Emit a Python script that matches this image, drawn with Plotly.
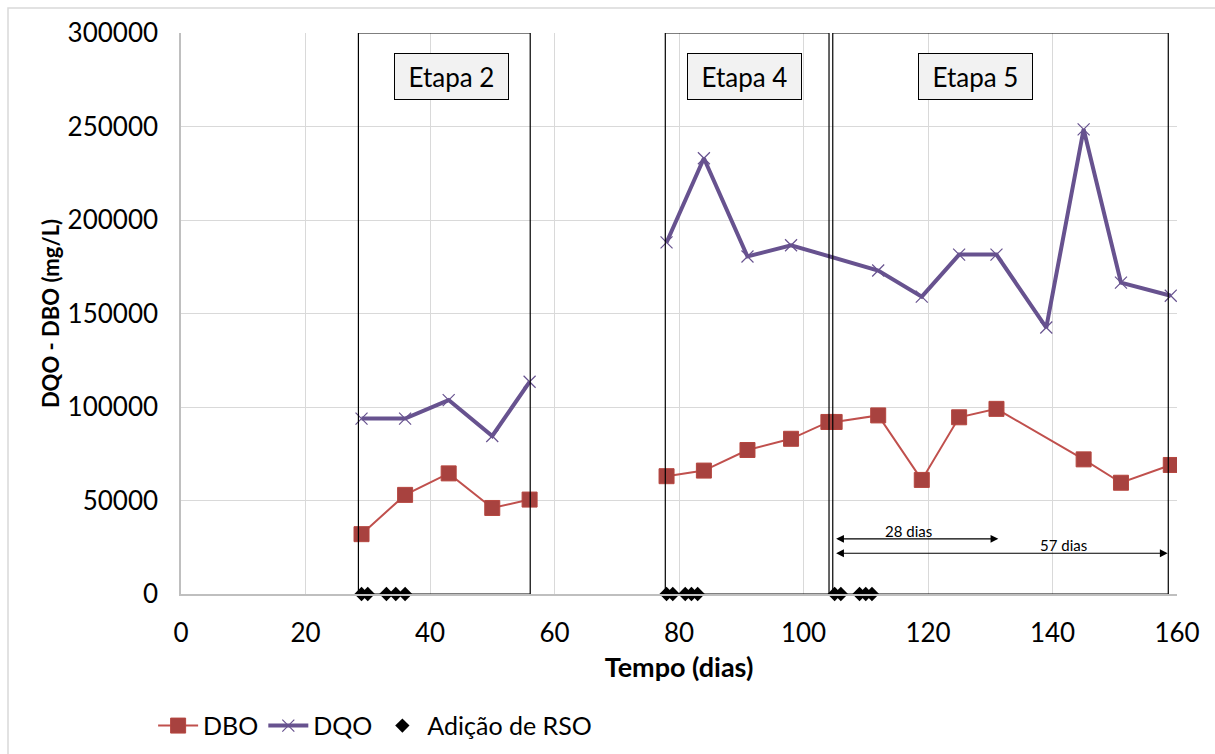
import plotly.graph_objects as go

# ---- data ----  (None = gap between stages)
dbo_days = [29, 36, 43, 50, 56, None, 78, 84, 91, 98, 104, 105, 112, 119, 125, 131, 145, 151, 159]
dbo_vals = [32000, 53000, 64500, 46000, 50500, None, 63000, 66000, 77000, 83000, 92000, 92000, 95500, 61000, 94500, 99000, 72000, 59500, 69000]

dqo_days = [29, 36, 43, 50, 56, None, 78, 84, 91, 98, 112, 119, 125, 131, 139, 145, 151, 159]
dqo_vals = [93800, 93800, 103700, 84500, 113500, None, 188000, 233000, 180500, 186500, 173000, 159000, 181500, 181500, 142500, 248500, 166500, 159500]

rso_days = [29, 30, 33, 34.5, 36, 78, 79, 81, 82, 83, 105, 106, 109, 110, 111]
rso_vals = [0] * len(rso_days)

stage_names = ["Etapa 2", "Etapa 4", "Etapa 5"]
stage_start = [28.5, 77.8, 104.7]
stage_end = [56.1, 104.1, 158.6]
stage_label_x = [43.4, 90.6, 127.6]
stage_label_y = 276500

span_labels = ["28 dias", "57 dias"]
span_start = [105, 105]
span_end = [131.3, 158.5]
span_y = [29500, 21800]
span_label_x = [116.9, 141.8]

FONT = "Lato"

fig = go.Figure()

fig.add_trace(go.Scatter(
    x=dbo_days, y=dbo_vals, name="DBO", mode="lines+markers",
    line=dict(color="#C0504D", width=2),
    marker=dict(symbol="square", size=15, color="#A8423F", line=dict(color="#B5463F", width=1)),
))
fig.add_trace(go.Scatter(
    x=dqo_days, y=dqo_vals, name="DQO", mode="lines+markers",
    line=dict(color="#67528F", width=4),
    marker=dict(symbol="x-thin", size=12, color="#67528F", line=dict(color="#67528F", width=1.2)),
))
fig.add_trace(go.Scatter(
    x=rso_days, y=rso_vals, name="Adição de RSO", mode="markers",
    marker=dict(symbol="diamond", size=11, color="black"),
    cliponaxis=False,
))

shapes = []
for s, e in zip(stage_start, stage_end):
    shapes.append(dict(type="rect", xref="x", yref="y", x0=s, x1=e, y0=0, y1=300000,
                       line=dict(color="black", width=1.2), fillcolor="rgba(0,0,0,0)", layer="above"))
# outer chart border
shapes.append(dict(type="rect", xref="paper", yref="paper", x0=-0.1737, x1=1.05, y0=-0.4, y1=1.0446,
                   line=dict(color="#D9D9D9", width=1.5)))
annotations = []
for name, lx in zip(stage_names, stage_label_x):
    annotations.append(dict(x=lx, y=stage_label_y, xref="x", yref="y", text=name, showarrow=False,
                            font=dict(family=FONT, size=26, color="black"),
                            bgcolor="#F2F2F2", bordercolor="black", borderwidth=1,
                            width=113, height=45, borderpad=0))
for lab, s, e, yy, lx in zip(span_labels, span_start, span_end, span_y, span_label_x):
    annotations.append(dict(x=e, y=yy, ax=s, ay=yy, xref="x", yref="y", axref="x", ayref="y",
                            text="", showarrow=True, arrowhead=2, arrowside="end+start",
                            arrowsize=1.3, arrowwidth=1.2, arrowcolor="black"))
    annotations.append(dict(x=lx, y=yy, xref="x", yref="y",
                            text=lab, showarrow=False, yanchor="bottom", yshift=-3,
                            font=dict(family=FONT, size=15, color="black")))

fig.update_layout(
    width=1215, height=754,
    margin=dict(l=181, r=38, t=33, b=160, autoexpand=False),
    paper_bgcolor="white", plot_bgcolor="white",
    font=dict(family=FONT, size=20, color="black"),
    shapes=shapes, annotations=annotations,
    showlegend=True,
    legend=dict(orientation="h", x=-0.028, y=-0.235, xanchor="left", yanchor="middle",
                font=dict(family=FONT, size=25, color="black"), itemwidth=40,
                traceorder="normal"),
    xaxis=dict(range=[0, 160], dtick=20, tick0=0, showgrid=True, gridcolor="#D9D9D9", gridwidth=1,
               zeroline=False, showline=True, linecolor="#BFBFBF", linewidth=1.5,
               ticks="", tickfont=dict(family=FONT, size=26), ticklabelstandoff=15,
               title=dict(text="<b>Tempo (dias)</b>", font=dict(family=FONT, size=27), standoff=11)),
    yaxis=dict(range=[0, 300000], dtick=50000, tick0=0, showgrid=True, gridcolor="#D9D9D9", gridwidth=1,
               zeroline=False, showline=True, linecolor="#BFBFBF", linewidth=1.5,
               ticks="", tickformat="d",
               tickfont=dict(family=FONT, size=26), ticklabelstandoff=16,
               title=dict(text="<b>DQO - DBO (mg/L)</b>", font=dict(family=FONT, size=22), standoff=2)),
)

fig.write_html("out.html")
